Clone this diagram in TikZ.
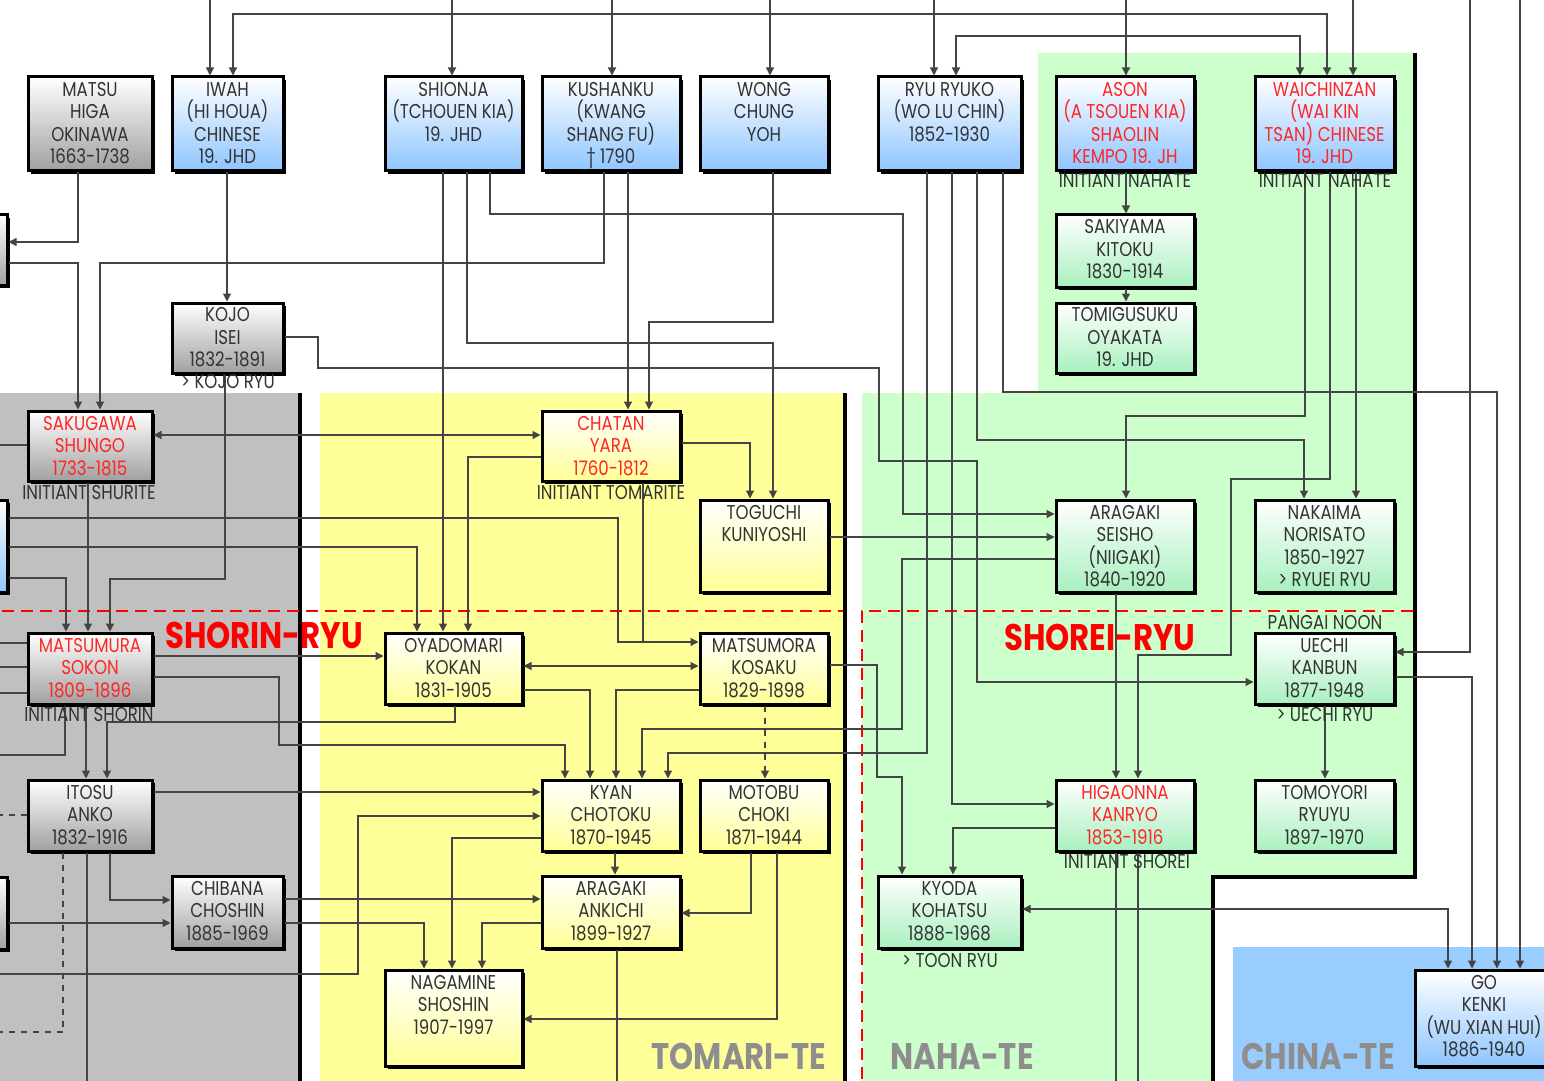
\documentclass[tikz,border=0pt]{standalone}
\usepackage{fontspec}
\setmainfont[FakeStretch=0.83]{Poppins}
\usetikzlibrary{arrows.meta,shadows}
\definecolor{gbg}{HTML}{C0C0C0}
\definecolor{ybg}{HTML}{FFFF99}
\definecolor{nbg}{HTML}{CCFFCC}
\definecolor{bbg}{HTML}{99CCFF}
\definecolor{ink}{HTML}{333333}
\definecolor{redt}{HTML}{FF2626}
\definecolor{lnc}{HTML}{444444}
\definecolor{titc}{HTML}{8E8E8E}
\definecolor{gboxb}{HTML}{A0A0A0}
\definecolor{bboxb}{HTML}{8EC5FF}
\definecolor{yboxb}{HTML}{FFFF96}
\definecolor{nboxb}{HTML}{A8F0BE}
\newlength\bxu \setlength\bxu{0.5pt}
\newcommand\boxfnt{\fontsize{10}{11.25}\selectfont}
\newcommand\titfnt{\fontsize{18.5}{20}\selectfont\bfseries}
\newcommand\pbox[7]{%
  \node[box,#6] (#1) at ({(#2+#4)/2},{(#3+#5)/2})
   {\parbox[c][\dimexpr\bxu*(#5-#3)\relax][t]{\dimexpr\bxu*(#4-#2)\relax}{\centering\rule{0pt}{9.5pt}#7\par}};}
\tikzset{
  box/.style={draw=black, line width=1.5pt, inner sep=0pt, font=\boxfnt, text=ink,
    drop shadow={shadow xshift=1.3pt, shadow yshift=-1.3pt, fill=black, opacity=1}},
  gbox/.style={top color=white, bottom color=gboxb},
  bbox/.style={top color=white, bottom color=bboxb},
  ybox/.style={top color=white, bottom color=yboxb},
  nbox/.style={top color=white, bottom color=nboxb},
  redtxt/.style={text=redt},
  lab/.style={font=\boxfnt, text=ink, inner sep=0pt, anchor=base},
  tit/.style={font=\titfnt, inner sep=0pt, anchor=base},
  conn/.style={draw=lnc, line width=0.6pt},
  arr/.style={conn, -{Triangle[length=4pt,width=4pt]}},
  arrb/.style={conn, {Triangle[length=4pt,width=4pt]}-{Triangle[length=4pt,width=4pt]}},
  sep/.style={draw=black, line width=2.2pt},
  rdash/.style={draw=red, line width=1.4pt, dash pattern=on 6pt off 3.5pt},
}
\begin{document}
\begin{tikzpicture}[x=0.5pt,y=-0.5pt]
\useasboundingbox (0,0) rectangle (1544,1081);
\clip (0,0) rectangle (1544,1081);
\fill[white] (0,0) rectangle (1544,1081);
% ---------- regions ----------
\fill[gbg] (0,393) rectangle (300,1081);
\fill[ybg] (320,393) rectangle (845,1081);
\fill[nbg] (1038,53) -- (1415,53) -- (1415,877) -- (1213,877) -- (1213,1081) -- (862,1081) -- (862,393) -- (1038,393) -- cycle;
\fill[bbg] (1233,947) rectangle (1544,1081);
\draw[sep] (300,393) -- (300,1081);
\draw[sep] (845,393) -- (845,1081);
\draw[sep] (1415,53) -- (1415,877) -- (1213,877) -- (1213,1081);
\draw[rdash] (2,611) -- (843,611);
\draw[rdash] (1413,611) -- (862,611) -- (862,1081);
% ---------- free ends ----------
\foreach \x in {210,452,612,770,934,1126,1353,1470,1520} {\coordinate (in\x) at (\x,0);}
\foreach \y in {445,643,667,693,755,815,974,1032} {\coordinate (lft\y) at (0,\y);}
\foreach \x in {87,617,1116,1138} {\coordinate (bot\x) at (\x,1081);}
% ---------- boxes ----------
\node[box,gbox,minimum width=55pt,minimum height=35pt] (edgeA) at (-48,250) {};
\node[box,bbox,minimum width=55pt,minimum height=46pt] (edgeB) at (-48,546) {};
\node[box,gbox,minimum width=55pt,minimum height=36pt] (edgeC) at (-48,913) {};
\pbox{matsu}{28}{77}{152}{171}{gbox}{MATSU\\HIGA\\OKINAWA\\1663-1738}
\pbox{iwah}{172}{77}{283}{171}{bbox}{IWAH\\(HI HOUA)\\CHINESE\\19. JHD}
\pbox{shionja}{385}{77}{522}{171}{bbox}{SHIONJA\\(TCHOUEN KIA)\\19. JHD}
\pbox{kushanku}{542}{77}{680}{171}{bbox}{KUSHANKU\\(KWANG\\SHANG FU)\\† 1790}
\pbox{wong}{700}{77}{828}{171}{bbox}{WONG\\CHUNG\\YOH}
\pbox{ryu}{878}{77}{1021}{171}{bbox}{RYU RYUKO\\(WO LU CHIN)\\1852-1930}
\pbox{ason}{1056}{77}{1194}{171}{bbox,redtxt}{ASON\\(A TSOUEN KIA)\\SHAOLIN\\KEMPO 19. JH}
\pbox{wai}{1255}{77}{1394}{171}{bbox,redtxt}{WAICHINZAN\\(WAI KIN\\TSAN) CHINESE\\19. JHD}
\pbox{kojo}{172}{303}{283}{373}{gbox}{KOJO\\ISEI\\1832-1891}
\pbox{sakiyama}{1056}{215}{1194}{287}{nbox}{SAKIYAMA\\KITOKU\\1830-1914}
\pbox{tomi}{1056}{303}{1194}{373}{nbox}{TOMIGUSUKU\\OYAKATA\\19. JHD}
\pbox{sakugawa}{28}{411}{152}{481}{gbox,redtxt}{SAKUGAWA\\SHUNGO\\1733-1815}
\pbox{chatan}{542}{411}{680}{481}{ybox,redtxt}{CHATAN\\YARA\\1760-1812}
\pbox{toguchi}{700}{500}{828}{592}{ybox}{TOGUCHI\\KUNIYOSHI}
\pbox{aragakis}{1056}{500}{1194}{592}{nbox}{ARAGAKI\\SEISHO\\(NIIGAKI)\\1840-1920}
\pbox{nakaima}{1255}{500}{1394}{592}{nbox}{NAKAIMA\\NORISATO\\1850-1927\\> RYUEI RYU}
\pbox{matsumura}{28}{633}{152}{704}{gbox,redtxt}{MATSUMURA\\SOKON\\1809-1896}
\pbox{oyadomari}{385}{633}{522}{704}{ybox}{OYADOMARI\\KOKAN\\1831-1905}
\pbox{matsumora}{700}{633}{828}{704}{ybox}{MATSUMORA\\KOSAKU\\1829-1898}
\pbox{uechi}{1255}{633}{1394}{704}{nbox}{UECHI\\KANBUN\\1877-1948}
\pbox{itosu}{28}{780}{152}{851}{gbox}{ITOSU\\ANKO\\1832-1916}
\pbox{kyan}{542}{780}{680}{851}{ybox}{KYAN\\CHOTOKU\\1870-1945}
\pbox{motobu}{700}{780}{828}{851}{ybox}{MOTOBU\\CHOKI\\1871-1944}
\pbox{higaonna}{1056}{780}{1194}{851}{nbox,redtxt}{HIGAONNA\\KANRYO\\1853-1916}
\pbox{tomoyori}{1255}{780}{1394}{851}{nbox}{TOMOYORI\\RYUYU\\1897-1970}
\pbox{chibana}{172}{876}{283}{948}{gbox}{CHIBANA\\CHOSHIN\\1885-1969}
\pbox{ankichi}{542}{876}{680}{948}{ybox}{ARAGAKI\\ANKICHI\\1899-1927}
\pbox{kyoda}{878}{876}{1021}{948}{nbox}{KYODA\\KOHATSU\\1888-1968}
\pbox{nagamine}{385}{970}{522}{1066}{ybox}{NAGAMINE\\SHOSHIN\\1907-1997}
\pbox{gokenki}{1415}{970}{1553}{1066}{bbox}{GO\\KENKI\\(WU XIAN HUI)\\1886-1940}
% ---------- connectors ----------
\draw[arr] (in210) -- (iwah.north -| in210);
\draw[arrb] (iwah.north -| 233,0) -- (233,14) -- (1327,14) -- (wai.north -| 1327,0);
\draw[arr] (in452) -- (shionja.north -| in452);
\draw[arr] (in612) -- (kushanku.north -| in612);
\draw[arr] (in770) -- (wong.north -| in770);
\draw[arr] (in934) -- (ryu.north -| in934);
\draw[arrb] (ryu.north -| 956,0) -- (956,36) -- (1300,36) -- (wai.north -| 1300,0);
\draw[arr] (in1126) -- (ason.north -| in1126);
\draw[arr] (in1353) -- (wai.north -| in1353);
\draw[arr] (in1470) -- (1470,652) -- (uechi.east |- 0,652);
\draw[arr] (in1520) -- (gokenki.north -| in1520);
\draw[arr] (matsu.south -| 78,0) -- (78,242) -- (edgeA.east |- 0,242);
\draw[arr] (edgeA.east |- 0,263) -- (78,263) -- (sakugawa.north -| 78,0);
\draw[arr] (kushanku.south -| 604,0) -- (604,263) -- (100,263) -- (sakugawa.north -| 100,0);
\draw[arr] (iwah.south -| 227,0) -- (kojo.north -| 227,0);
\draw[arr] (kojo.east |- 0,337) -- (318,337) -- (318,368) -- (879,368) -- (879,461) -- (977,461) -- (977,682) -- (uechi.west |- 0,682);
\draw[arr] (kojo.south -| 225,0) -- (225,579) -- (110,579) -- (matsumura.north -| 110,0);
\draw[arr] (shionja.south -| 443,0) -- (oyadomari.north -| 443,0);
\draw[arr] (shionja.south -| 467,0) -- (467,343) -- (773,343) -- (toguchi.north -| 773,0);
\draw[arr] (shionja.south -| 490,0) -- (490,214) -- (903,214) -- (903,514) -- (aragakis.west |- 0,514);
\draw[arr] (kushanku.south -| 628,0) -- (chatan.north -| 628,0);
\draw[arr] (wong.south -| 773,0) -- (773,322) -- (649,322) -- (chatan.north -| 649,0);
\draw[arr] (ryu.south -| 927,0) -- (927,753) -- (668,753) -- (kyan.north -| 668,0);
\draw[arr] (ryu.south -| 952,0) -- (952,804) -- (higaonna.west |- 0,804);
\draw[arr] (ryu.south -| 977,0) -- (977,440) -- (1304,440) -- (nakaima.north -| 1304,0);
\draw[arr] (ryu.south -| 1003,0) -- (1003,392) -- (1497,392) -- (gokenki.north -| 1497,0);
\draw[arr] (ason.south -| 1126,0) -- (sakiyama.north -| 1126,0);
\draw[arr] (sakiyama.south -| 1126,0) -- (tomi.north -| 1126,0);
\draw[arr] (wai.south -| 1305,0) -- (1305,416) -- (1126,416) -- (aragakis.north -| 1126,0);
\draw[arr] (wai.south -| 1330,0) -- (1330,479) -- (1231,479) -- (1231,655) -- (1138,655) -- (higaonna.north -| 1138,0);
\draw[arr] (wai.south -| 1356,0) -- (nakaima.north -| 1356,0);
\draw[arrb] (sakugawa.east |- 0,435) -- (chatan.west |- 0,435);
\draw[conn] (lft445) -- (sakugawa.west |- 0,445);
\draw[arr] (sakugawa.south -| 88,0) -- (matsumura.north -| 88,0);
\draw[arr] (edgeB.east |- 0,578) -- (66,578) -- (matsumura.north -| 66,0);
\draw[arr] (edgeB.east |- 0,518) -- (618,518) -- (618,642) -- (matsumora.west |- 0,642);
\draw[conn] (chatan.south -| 643,0) -- (643,642);
\draw[arr] (edgeB.east |- 0,547) -- (417,547) -- (oyadomari.north -| 417,0);
\draw[arr] (chatan.west |- 0,457) -- (468,457) -- (oyadomari.north -| 468,0);
\draw[arr] (chatan.east |- 0,443) -- (750,443) -- (toguchi.north -| 750,0);
\draw[arr] (toguchi.east |- 0,537) -- (aragakis.west |- 0,537);
\draw[arr] (aragakis.west |- 0,559) -- (902,559) -- (902,729) -- (642,729) -- (kyan.north -| 642,0);
\draw[arr] (aragakis.south -| 1116,0) -- (higaonna.north -| 1116,0);
\draw[arr] (matsumura.east |- 0,656) -- (oyadomari.west |- 0,656);
\draw[arr] (matsumura.east |- 0,677) -- (279,677) -- (279,745) -- (565,745) -- (kyan.north -| 565,0);
\draw[conn] (lft643) -- (matsumura.west |- 0,643);
\draw[conn] (lft667) -- (matsumura.west |- 0,667);
\draw[conn] (lft693) -- (matsumura.west |- 0,693);
\draw[conn] (matsumura.south -| 65,0) -- (65,755) -- (lft755);
\draw[arr] (matsumura.south -| 86,0) -- (itosu.north -| 86,0);
\draw[arr] (oyadomari.south -| 455,0) -- (455,722) -- (107,722) -- (itosu.north -| 107,0);
\draw[arrb] (oyadomari.east |- 0,666) -- (matsumora.west |- 0,666);
\draw[arr] (oyadomari.east |- 0,690) -- (590,690) -- (kyan.north -| 590,0);
\draw[arr] (matsumora.west |- 0,690) -- (616,690) -- (kyan.north -| 616,0);
\draw[arr,dashed] (matsumora.south -| 765,0) -- (motobu.north -| 765,0);
\draw[arr] (matsumora.east |- 0,665) -- (877,665) -- (877,777) -- (902,777) -- (kyoda.north -| 902,0);
\draw[arr] (uechi.south -| 1325,0) -- (tomoyori.north -| 1325,0);
\draw[arr] (uechi.east |- 0,677) -- (1472,677) -- (gokenki.north -| 1472,0);
\draw[arr] (higaonna.west |- 0,828) -- (953,828) -- (kyoda.north -| 953,0);
\draw[conn] (higaonna.south -| 1116,0) -- (bot1116);
\draw[conn] (higaonna.south -| 1138,0) -- (bot1138);
\draw[arrb] (kyoda.east |- 0,909) -- (1448,909) -- (gokenki.north -| 1448,0);
\draw[conn,dashed] (itosu.west |- 0,815) -- (lft815);
\draw[conn,dashed] (itosu.south -| 63,0) -- (63,1032) -- (lft1032);
\draw[conn] (itosu.south -| 87,0) -- (bot87);
\draw[arr] (itosu.south -| 110,0) -- (110,900) -- (chibana.west |- 0,900);
\draw[arr] (edgeC.east |- 0,923) -- (chibana.west |- 0,923);
\draw[arr] (lft974) -- (358,974) -- (358,816) -- (kyan.west |- 0,816);
\draw[arr] (itosu.east |- 0,792) -- (kyan.west |- 0,792);
\draw[arr] (chibana.east |- 0,899) -- (ankichi.west |- 0,899);
\draw[arr] (chibana.east |- 0,923) -- (424,923) -- (nagamine.north -| 424,0);
\draw[arr] (kyan.west |- 0,838) -- (452,838) -- (nagamine.north -| 452,0);
\draw[arr] (ankichi.west |- 0,923) -- (482,923) -- (nagamine.north -| 482,0);
\draw[arr] (kyan.south -| 615,0) -- (ankichi.north -| 615,0);
\draw[arr] (motobu.south -| 751,0) -- (751,913) -- (ankichi.east |- 0,913);
\draw[arr] (motobu.south -| 777,0) -- (777,1019) -- (nagamine.east |- 0,1019);
\draw[conn] (ankichi.south -| 617,0) -- (bot617);
% ---------- labels ----------
\node[lab] (l-ason) at (1125,188) {INITIANT NAHATE};
\node[lab] (l-wai) at (1325,188) {INITIANT NAHATE};
\node[lab] (l-kojo) at (228,388) {> KOJO RYU};
\node[lab] (l-saku) at (89,499) {INITIANT SHURITE};
\node[lab] (l-chatan) at (611,499) {INITIANT TOMARITE};
\node[lab] (l-pangai) at (1325,629) {PANGAI NOON};
\node[lab] (l-uechi) at (1325,721) {> UECHI RYU};
\node[lab] (l-matsu) at (89,721) {INITIANT SHORIN};
\node[lab] (l-higa) at (1127,868) {INITIANT SHOREI};
\node[lab] (l-kyoda) at (950,967) {> TOON RYU};
\node[tit,text=red] (t-shorin) at (264,648) {SHORIN-RYU};
\node[tit,text=red] (t-shorei) at (1100,650) {SHOREI-RYU};
\node[tit,text=titc] (t-tomari) at (739,1069) {TOMARI-TE};
\node[tit,text=titc] (t-naha) at (962,1069) {NAHA-TE};
\node[tit,text=titc] (t-china) at (1318,1069) {CHINA-TE};
\end{tikzpicture}
\end{document}
